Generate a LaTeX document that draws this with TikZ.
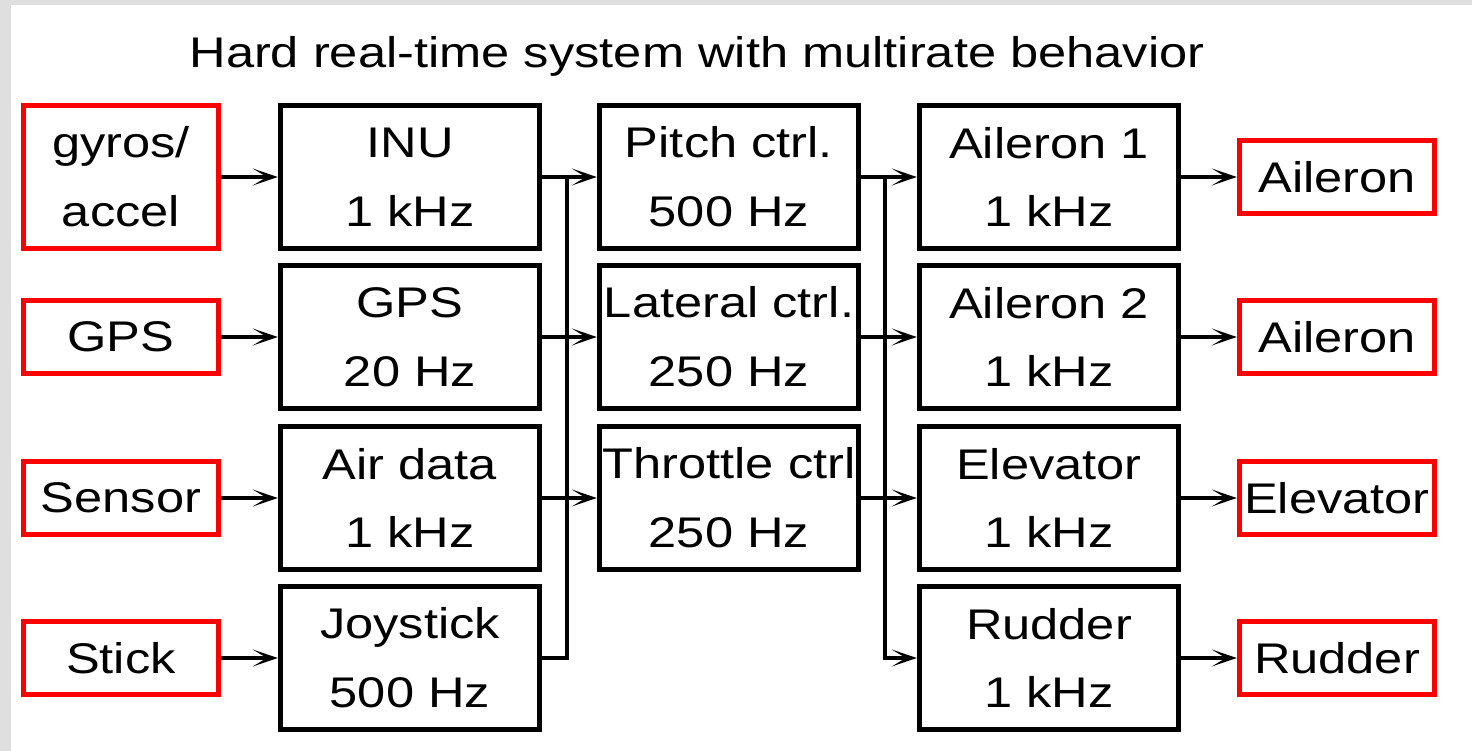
\documentclass[tikz,border=0pt]{standalone}
\usepackage{fontspec}
\setmainfont{Liberation Sans}[FakeStretch=1.18]
\usetikzlibrary{arrows.meta}

\tikzset{
    blk/.style={draw=black, line width=0.055cm, minimum width=2.59cm, minimum height=1.43cm,
        inner sep=0pt, align=center, font=\fontsize{12.2}{19.6}\selectfont},
    io/.style={draw=red, line width=0.055cm, minimum width=1.95cm, minimum height=0.73cm,
        inner sep=0pt, align=center, font=\fontsize{12.2}{19.6}\selectfont},
    wire/.style={line width=0.04cm},
    arr/.style={wire, -{Stealth[length=0.25cm, width=0.17cm, inset=0.14cm]}},
}

\begin{document}
\begin{tikzpicture}
    \useasboundingbox (0,0) rectangle (14.72,-7.51);
    \fill[gray!25] (0,0) rectangle (14.72,-7.51);
    \fill[white] (0.11,-0.05) rectangle (14.72,-7.51);
    \node[anchor=base, font=\fontsize{12.2}{14}\selectfont] (title) at (6.97,-0.68) {Hard real-time system with multirate behavior};
    % Inputs
    \node[io, minimum height=1.43cm] (gyro) at (1.21,-1.77) {gyros/\\accel};
    \node[io] (gpsin) at (1.21,-3.37) {GPS};
    \node[io] (sensor) at (1.21,-4.98) {Sensor};
    \node[io] (stick) at (1.21,-6.58) {Stick};
    % Sampling tasks
    \node[blk] (inu) at (4.10,-1.77) {INU\\1 kHz};
    \node[blk] (gps) at (4.10,-3.37) {GPS\\20 Hz};
    \node[blk] (air) at (4.10,-4.98) {Air data\\1 kHz};
    \node[blk] (joy) at (4.10,-6.58) {Joystick\\500 Hz};
    % Control laws
    \node[blk] (pitch) at (7.29,-1.77) {Pitch ctrl.\\500 Hz};
    \node[blk] (lat) at (7.29,-3.37) {Lateral ctrl.\\250 Hz};
    \node[blk] (thr) at (7.29,-4.98) {Throttle ctrl\\250 Hz};
    % Actuator tasks
    \node[blk] (ail1) at (10.49,-1.77) {Aileron 1\\1 kHz};
    \node[blk] (ail2) at (10.49,-3.37) {Aileron 2\\1 kHz};
    \node[blk] (elev) at (10.49,-4.98) {Elevator\\1 kHz};
    \node[blk] (rud) at (10.49,-6.58) {Rudder\\1 kHz};
    % Outputs
    \node[io] (ailout1) at (13.37,-1.77) {Aileron};
    \node[io] (ailout2) at (13.37,-3.37) {Aileron};
    \node[io] (elevout) at (13.37,-4.98) {Elevator};
    \node[io] (rudout) at (13.37,-6.58) {Rudder};
    \coordinate (busA) at (5.67,-1.77); % first bus
    \coordinate (busB) at (8.85,-1.77); % second bus
    \draw[arr] (gyro) -- (inu);
    \draw[arr] (gpsin) -- (gps);
    \draw[arr] (sensor) -- (air);
    \draw[arr] (stick) -- (joy);
    \draw[arr] (inu) -- (pitch);
    \draw[arr] (gps) -- (lat);
    \draw[arr] (air) -- (thr);
    \draw[wire] (joy.east) -| (busA);
    \draw[arr] (pitch) -- (ail1);
    \draw[arr] (lat) -- (ail2);
    \draw[arr] (thr) -- (elev);
    \draw[arr] (busB) |- (rud.west);
    \draw[arr] (ail1) -- (ailout1);
    \draw[arr] (ail2) -- (ailout2);
    \draw[arr] (elev) -- (elevout);
    \draw[arr] (rud) -- (rudout);
\end{tikzpicture}
\end{document}
